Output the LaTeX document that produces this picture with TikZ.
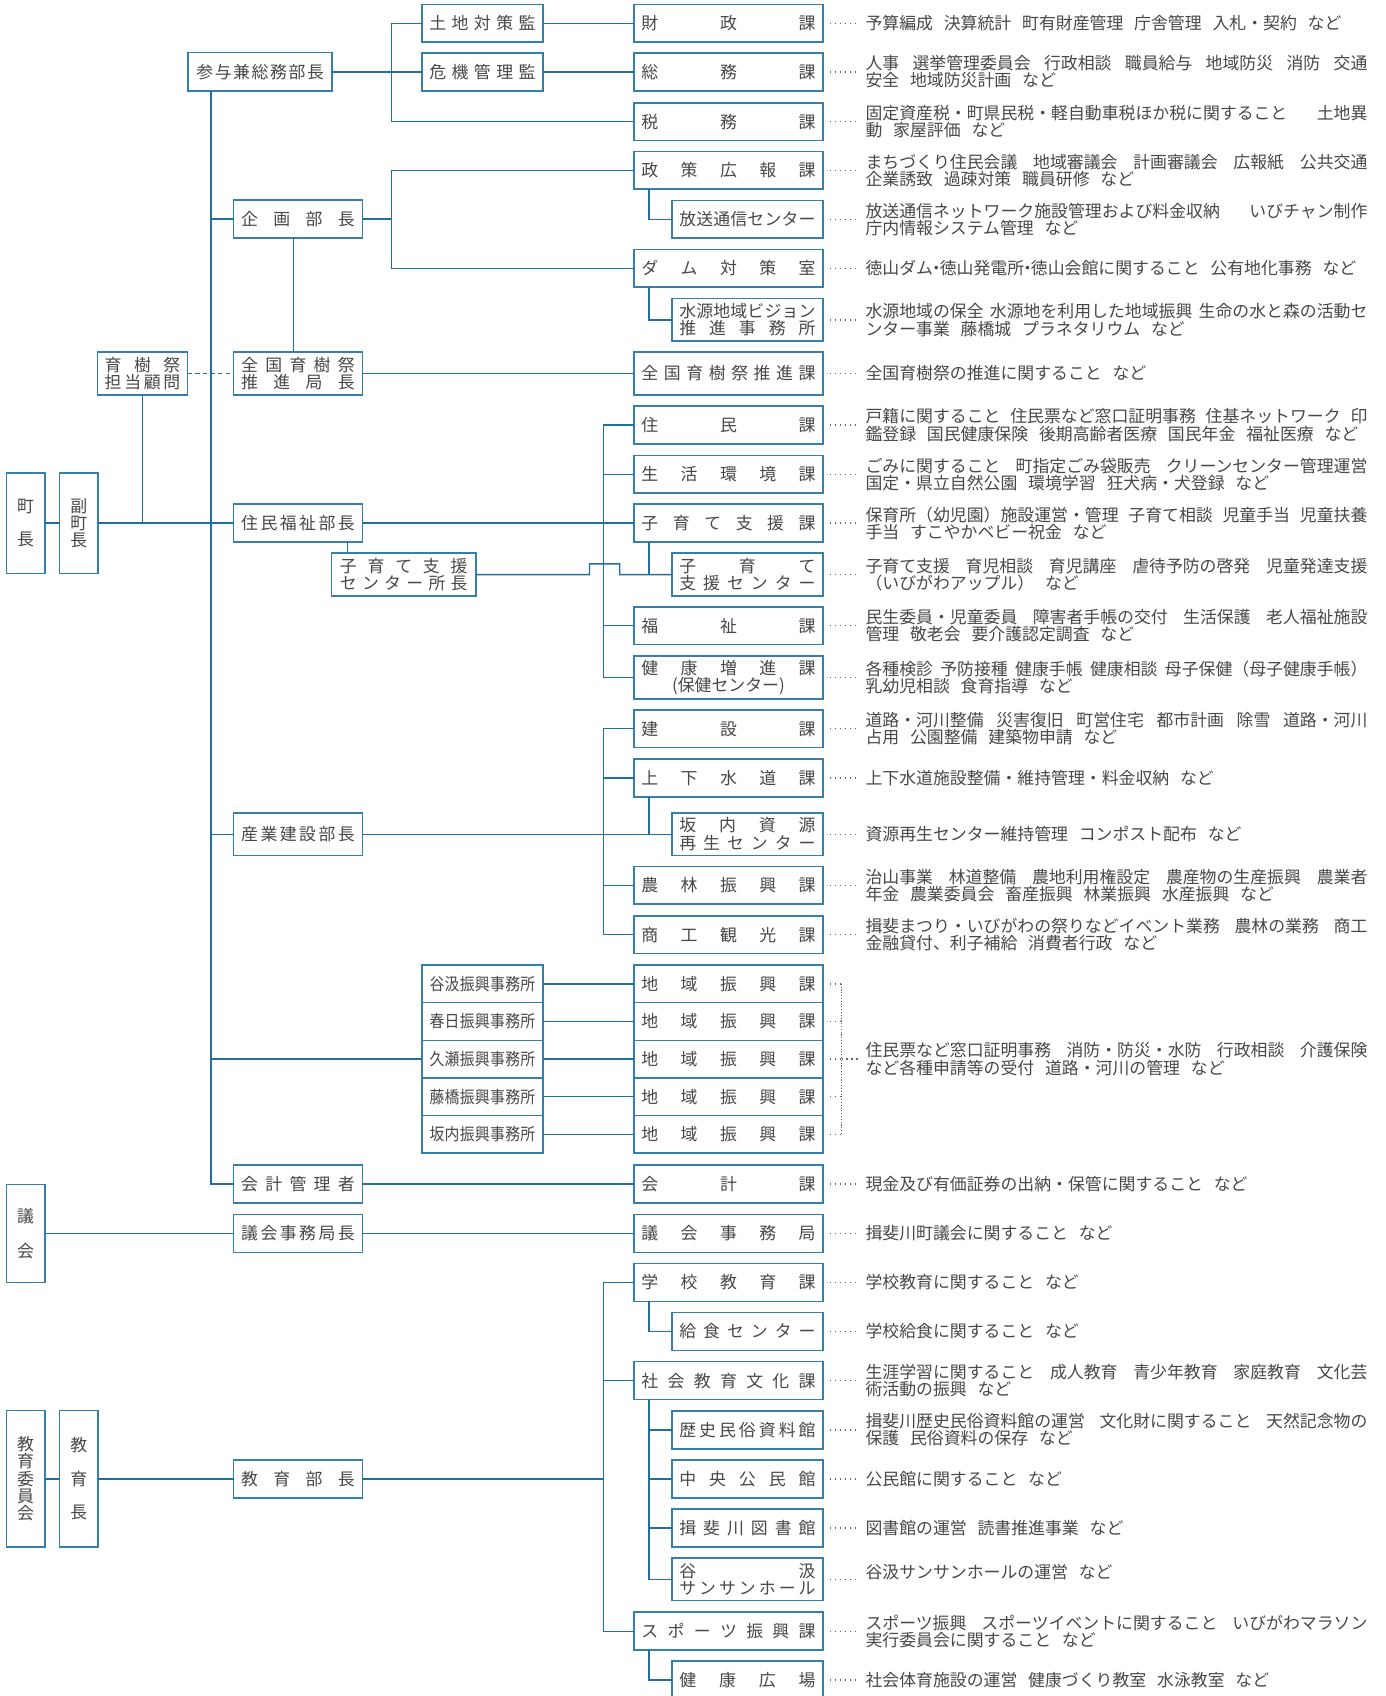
\documentclass[tikz,border=0pt]{standalone}
\usepackage{fontspec}
\usepackage{graphicx}
\setmainfont{Noto Sans CJK JP}
\usetikzlibrary{calc}
\definecolor{lc}{RGB}{32,112,158}
\definecolor{bc}{RGB}{52,128,170}
\definecolor{tc}{RGB}{72,72,72}
\definecolor{dc}{RGB}{100,100,100}
\newcommand\bxf{\fontsize{15.6pt}{16pt}\selectfont}
\newcommand\dsf{\fontsize{15.6pt}{16pt}\selectfont}
\newcommand\GG{\hskip 3pt plus 1fil\relax}
\newcommand\HH{\hskip 10pt\relax}
\newcommand\JL[1]{\makebox[464pt][s]{#1}}
\newcommand\ndot{\kern-0.3em・\kern-0.3em}
\makeatletter
\def\spr@do#1{\let\spr@sep\relax\@tfor\spr@c:=#1\do{\spr@sep\spr@c\let\spr@sep\hfill}}
\newcommand\SP[2]{\makebox[#1]{\spr@do{#2}}}
\makeatother
\newcommand\SH[1]{\scalebox{0.88}[1]{\SP{111pt}{#1}}}
\begin{document}
\begin{tikzpicture}[x=1pt,y=-1pt,
  box/.style={draw=bc,line width=1.5pt,fill=white,inner sep=0pt,outer sep=0pt,text=tc,font=\bxf,anchor=north west,align=center},
  c4/.style={minimum width=175pt,minimum height=35pt},
  sb/.style={minimum width=140pt,minimum height=35pt},
  c2/.style={minimum width=119pt,minimum height=35pt},
  c3/.style={minimum width=112pt,minimum height=35pt},
  dbl/.style={minimum height=39.5pt},
  ln/.style={draw=lc,line width=1.3pt},
  lead/.style={draw=dc,line width=1.3pt,dash pattern=on 1.3pt off 3.3pt},
  leadv/.style={draw=dc,line width=1.1pt,dash pattern=on 1pt off 1.6pt},
  dsc/.style={anchor=west,inner sep=0pt,text=tc,font=\dsf,align=left}]
\useasboundingbox (0,0) rectangle (1281,1568);
\clip (0,0) rectangle (1281,1568);
\fill[white] (0,0) rectangle (1281,1568);

% ---------- left column ----------
\node[box,minimum width=35.4pt,minimum height=93pt] (chou) at (6,437.2) {町\\[15pt]長};
\node[box,minimum width=35.5pt,minimum height=93pt] (fuku) at (55,437.2) {副\\町\\長};
\node[box,minimum width=35.4pt,minimum height=90.8pt] (gikai) at (6,1095) {議\\[16pt]会};
\node[box,minimum width=35.4pt,minimum height=125.8pt] (kyoi) at (6,1304.2) {教\\育\\委\\員\\会};
\node[box,minimum width=35.5pt,minimum height=125.8pt] (kyocho) at (55,1304.2) {教\\[15pt]育\\[15pt]長};
\node[box,minimum width=83.5pt,minimum height=39.5pt] (komon) at (90,325.6) {\SP{70pt}{育樹祭}\\\SP{70pt}{担当顧問}};

% ---------- second column ----------
\node[box,minimum width=133pt,minimum height=35.4pt] (sanyo) at (174,48.7) {\SP{118pt}{参与兼総務部長}};
\node[box,c2] (kikaku) at (216,185) {\SP{105pt}{企画部長}};
\node[box,c2,dbl] (ikuju) at (216,325.6) {\SP{105pt}{全国育樹祭}\\\SP{105pt}{推進局長}};
\node[box,c2] (jumin) at (216,466.2) {\SP{105pt}{住民福祉部長}};
\node[box,minimum width=133.5pt,minimum height=39.7pt] (kosodate) at (306.5,511.4) {\SP{118pt}{子育て支援}\\\SP{118pt}{センター所長}};
\node[box,c2,minimum height=39.1pt] (sangyo) at (216,751.7) {\SP{105pt}{産業建設部長}};
\node[box,c2] (kaikeik) at (216,1077.3) {\SP{105pt}{会計管理者}};
\node[box,c2] (gijim) at (216,1122.9) {\SP{105pt}{議会事務局長}};
\node[box,c2] (kyoikub) at (216,1349.7) {\SP{105pt}{教育部長}};

% ---------- third column ----------
\node[box,c3] (tochi) at (390,4) {\SP{98pt}{土地対策監}};
\node[box,c3] (kiki) at (390,48.9) {\SP{98pt}{危機管理監}};
\node[box,c3,minimum height=34.8pt] (sh1) at (390,892.2) {\SH{谷汲振興事務所}};
\node[box,c3,minimum height=34.8pt] (sh2) at (390,927) {\SH{春日振興事務所}};
\node[box,c3,minimum height=34.8pt] (sh3) at (390,961.8) {\SH{久瀬振興事務所}};
\node[box,c3,minimum height=34.8pt] (sh4) at (390,996.6) {\SH{藤橋振興事務所}};
\node[box,c3,minimum height=34.8pt] (sh5) at (390,1031.4) {\SH{坂内振興事務所}};

% ---------- fourth column ----------
\node[box,c4] (c-zai) at (586,4) {\SP{161pt}{財政課}};
\node[box,c4] (c-som) at (586,48.9) {\SP{161pt}{総務課}};
\node[box,c4] (c-zei) at (586,95) {\SP{161pt}{税務課}};
\node[box,c4] (c-sei) at (586,140) {\SP{161pt}{政策広報課}};
\node[box,sb] (c-hoso) at (621,185.3) {\SP{126pt}{放送通信センター}};
\node[box,c4] (c-dam) at (586,230.5) {\SP{161pt}{ダム対策室}};
\node[box,sb,dbl] (c-sui) at (621,276) {\SP{126pt}{水源地域ビジョン}\\\SP{126pt}{推進事務所}};
\node[box,c4,dbl] (c-iku) at (586,325.6) {\SP{161pt}{全国育樹祭推進課}};
\node[box,c4] (c-jum) at (586,375.5) {\SP{161pt}{住民課}};
\node[box,c4] (c-sei2) at (586,421) {\SP{161pt}{生活環境課}};
\node[box,c4] (c-kos) at (586,466.2) {\SP{161pt}{子育て支援課}};
\node[box,sb,dbl] (c-kosc) at (621,511.5) {\SP{126pt}{子育て}\\\SP{126pt}{支援センター}};
\node[box,c4] (c-fuk) at (586,561) {\SP{161pt}{福祉課}};
\node[box,c4,dbl] (c-ken) at (586,606.6) {\SP{161pt}{健康増進課}\\\makebox[161pt]{(保健センター)}};
\node[box,c4] (c-kens) at (586,656.2) {\SP{161pt}{建設課}};
\node[box,c4] (c-gesui) at (586,701.8) {\SP{161pt}{上下水道課}};
\node[box,sb,minimum height=39.1pt] (c-sakau) at (621,751.7) {\SP{126pt}{坂内資源}\\\SP{126pt}{再生センター}};
\node[box,c4] (c-norin) at (586,801) {\SP{161pt}{農林振興課}};
\node[box,c4] (c-shoko) at (586,846.6) {\SP{161pt}{商工観光課}};
\node[box,c4,minimum height=34.8pt] (c-chi1) at (586,892.2) {\SP{161pt}{地域振興課}};
\node[box,c4,minimum height=34.8pt] (c-chi2) at (586,927) {\SP{161pt}{地域振興課}};
\node[box,c4,minimum height=34.8pt] (c-chi3) at (586,961.8) {\SP{161pt}{地域振興課}};
\node[box,c4,minimum height=34.8pt] (c-chi4) at (586,996.6) {\SP{161pt}{地域振興課}};
\node[box,c4,minimum height=34.8pt] (c-chi5) at (586,1031.4) {\SP{161pt}{地域振興課}};
\node[box,c4] (c-kai) at (586,1077.3) {\SP{161pt}{会計課}};
\node[box,c4] (c-gij) at (586,1122.9) {\SP{161pt}{議会事務局}};
\node[box,c4] (c-gak) at (586,1168.1) {\SP{161pt}{学校教育課}};
\node[box,sb] (c-kyu) at (621,1213.5) {\SP{126pt}{給食センター}};
\node[box,c4] (c-sha) at (586,1258.9) {\SP{161pt}{社会教育文化課}};
\node[box,sb] (c-reki) at (621,1304.4) {\SP{126pt}{歴史民俗資料館}};
\node[box,sb] (c-chuo) at (621,1349.7) {\SP{126pt}{中央公民館}};
\node[box,sb] (c-tosho) at (621,1395) {\SP{126pt}{揖斐川図書館}};
\node[box,sb,dbl] (c-tani) at (621,1440.3) {\SP{126pt}{谷汲}\\\SP{126pt}{サンサンホール}};
\node[box,c4] (c-spo) at (586,1490.6) {\SP{161pt}{スポーツ振興課}};
\node[box,sb] (c-hiro) at (621,1535.8) {\SP{126pt}{健康広場}};

% ---------- descriptions ----------
\node[dsc] (d-zai) at (800,21.5) {予算編成\HH 決算統計\HH 町有財産管理\HH 庁舎管理\HH 入札・契約\HH など};
\node[dsc] (d-som) at (800,66.4) {\JL{人事\GG 選挙管理委員会\GG 行政相談\GG 職員給与\GG 地域防災\GG 消防\GG 交通}\\安全\HH 地域防災計画\HH など};
\node[dsc] (d-zei) at (800,112.5) {\JL{固定資産税・町県民税・軽自動車税ほか税に関すること\GG 土地異}\\動\HH 家屋評価\HH など};
\node[dsc] (d-sei) at (800,157.5) {\JL{まちづくり住民会議\GG 地域審議会\GG 計画審議会\GG 広報紙\GG 公共交通}\\企業誘致\HH 過疎対策\HH 職員研修\HH など};
\node[dsc] (d-hoso) at (800,202.8) {\JL{放送通信ネットワーク施設管理および料金収納\GG いびチャン制作}\\庁内情報システム管理\HH など};
\node[dsc] (d-dam) at (800,248) {徳山ダム\ndot 徳山発電所\ndot 徳山会館に関すること\HH 公有地化事務\HH など};
\node[dsc] (d-sui) at (800,295.8) {\JL{水源地域の保全\GG 水源地を利用した地域振興\GG 生命の水と森の活動セ}\\ンター事業\HH 藤橋城\HH プラネタリウム\HH など};
\node[dsc] (d-iku) at (800,345.3) {全国育樹祭の推進に関すること\HH など};
\node[dsc] (d-jum) at (800,393) {\JL{戸籍に関すること\GG 住民票など窓口証明事務\GG 住基ネットワーク\GG 印}\\鑑登録\HH 国民健康保険\HH 後期高齢者医療\HH 国民年金\HH 福祉医療\HH など};
\node[dsc] (d-sei2) at (800,438.5) {\JL{ごみに関すること\GG 町指定ごみ袋販売\GG クリーンセンター管理運営}\\国定・県立自然公園\HH 環境学習\HH 狂犬病・犬登録\HH など};
\node[dsc] (d-kos) at (800,483.7) {\JL{保育所（幼児園）施設運営・管理\GG 子育て相談\GG 児童手当\GG 児童扶養}\\手当\HH すこやかベビー祝金\HH など};
\node[dsc] (d-kosc) at (800,531.2) {\JL{子育て支援\GG 育児相談\GG 育児講座\GG 虐待予防の啓発\GG 児童発達支援}\\（いびがわアップル）\HH など};
\node[dsc] (d-fuk) at (800,578.5) {\JL{民生委員・児童委員\GG 障害者手帳の交付\GG 生活保護\GG 老人福祉施設}\\管理\HH 敬老会\HH 要介護認定調査\HH など};
\node[dsc] (d-ken) at (800,626.3) {\JL{各種検診\GG 予防接種\GG 健康手帳\GG 健康相談\GG 母子保健（母子健康手帳）}\\乳幼児相談\HH 食育指導\HH など};
\node[dsc] (d-kens) at (800,673.7) {\JL{道路・河川整備\GG 災害復旧\GG 町営住宅\GG 都市計画\GG 除雪\GG 道路・河川}\\占用\HH 公園整備\HH 建築物申請\HH など};
\node[dsc] (d-gesui) at (800,719.3) {上下水道施設整備・維持管理・料金収納\HH など};
\node[dsc] (d-sakau) at (800,771.2) {資源再生センター維持管理\HH コンポスト配布\HH など};
\node[dsc] (d-norin) at (800,818.5) {\JL{治山事業\GG 林道整備\GG 農地利用権設定\GG 農産物の生産振興\GG 農業者}\\年金\HH 農業委員会\HH 畜産振興\HH 林業振興\HH 水産振興\HH など};
\node[dsc] (d-shoko) at (800,864.1) {\JL{揖斐まつり・いびがわの祭りなどイベント業務\GG 農林の業務\GG 商工}\\金融貸付、利子補給\HH 消費者行政\HH など};
\node[dsc] (d-chi) at (800,979.2) {\JL{住民票など窓口証明事務\GG 消防・防災・水防\GG 行政相談\GG 介護保険}\\など各種申請等の受付\HH 道路・河川の管理\HH など};
\node[dsc] (d-kai) at (800,1094.8) {現金及び有価証券の出納・保管に関すること\HH など};
\node[dsc] (d-gij) at (800,1140.4) {揖斐川町議会に関すること\HH など};
\node[dsc] (d-gak) at (800,1185.6) {学校教育に関すること\HH など};
\node[dsc] (d-kyu) at (800,1231) {学校給食に関すること\HH など};
\node[dsc] (d-sha) at (800,1276.4) {\JL{生涯学習に関すること\GG 成人教育\GG 青少年教育\GG 家庭教育\GG 文化芸}\\術活動の振興\HH など};
\node[dsc] (d-reki) at (800,1321.9) {\JL{揖斐川歴史民俗資料館の運営\GG 文化財に関すること\GG 天然記念物の}\\保護\HH 民俗資料の保存\HH など};
\node[dsc] (d-chuo) at (800,1367.2) {公民館に関すること\HH など};
\node[dsc] (d-tosho) at (800,1412.5) {図書館の運営\HH 読書推進事業\HH など};
\node[dsc] (d-tani) at (800,1453) {谷汲サンサンホールの運営\HH など};
\node[dsc] (d-spo) at (800,1508.1) {\JL{スポーツ振興\GG スポーツイベントに関すること\GG いびがわマラソン}\\実行委員会に関すること\HH など};
\node[dsc] (d-hiro) at (800,1553.3) {社会体育施設の運営\HH 健康づくり教室\HH 水泳教室\HH など};

% ---------- connectors ----------
\coordinate (vA) at (362,0);
\coordinate (vB) at (558,0);
\coordinate (bx) at (778,0);
\path (sanyo.south west) ++(21,0) coordinate (t0);
\path (kikaku.south) ++(-4,0) coordinate (kk);
\path (kosodate.north west) ++(14.5,0) coordinate (ks);
\path (c-gesui.south west) ++(14,0) coordinate (gs);
\path (c-sha.south west) ++(14,0) coordinate (ss);

\draw[ln] (t0) -- (t0 |- kaikeik.west) -- (kaikeik.west);
\draw[ln] (t0 |- kikaku.west) -- (kikaku.west);
\draw[ln] (t0 |- sangyo.west) -- (sangyo.west);
\draw[ln] (t0 |- sh3.west) -- (sh3.west);
\draw[ln] (chou.east) -- (fuku.west);
\draw[ln] (fuku.east) -- (fuku.east -| jumin.west);
\draw[ln] (komon.south) -- (komon.south |- jumin.west);
\draw[ln,dash pattern=on 4pt off 3pt] (komon.east) -- (komon.east -| ikuju.west);
\draw[ln] (kk) -- (kk |- ikuju.north);
\draw[ln] (ks) -- (ks |- jumin.south);

\draw[ln] (sanyo.east) -- (sanyo.east -| kiki.west);
\draw[ln] (tochi.west) -| (vA |- c-zei.west) -- (c-zei.west);
\draw[ln] (tochi.east) -- (tochi.east -| c-zai.west);
\draw[ln] (kiki.east) -- (kiki.east -| c-som.west);
\draw[ln] (kikaku.east) -- (kikaku.east -| vA);
\draw[ln] (c-sei.west) -| (vA |- c-dam.west) -- (c-dam.west);
\draw[ln] ($(c-sei.south west)+(14,0)$) |- (c-hoso.west);
\draw[ln] ($(c-dam.south west)+(14,0)$) |- (c-sui.west);
\draw[ln] (ikuju.east) -- (ikuju.east -| c-iku.west);

\draw[ln] (jumin.east) -- (jumin.east -| c-kos.west);
\draw[ln] (c-jum.west) -| (vB |- c-ken.west) -- (c-ken.west);
\draw[ln] (vB |- c-sei2.west) -- (c-sei2.west);
\draw[ln] (vB |- c-fuk.west) -- (c-fuk.west);
\draw[ln] (kosodate.east) -- ++(105,0) -- ++(0,-10) -- ++(28,0) -- ++(0,10) -- (c-kosc.west);
\draw[ln] ($(c-kos.south west)+(14,0)$) |- (c-kosc.west);

\draw[ln] (sangyo.east) -- (sangyo.east -| c-sakau.west);
\draw[ln] (c-kens.west) -| (vB |- c-shoko.west) -- (c-shoko.west);
\draw[ln] (vB |- c-gesui.west) -- (c-gesui.west);
\draw[ln] (vB |- c-norin.west) -- (c-norin.west);
\draw[ln] (gs) -- (gs |- c-sakau.west);

\foreach \i in {1,...,5} {\draw[ln] (sh\i.east) -- (c-chi\i.west);}

\draw[ln] (kaikeik.east) -- (kaikeik.east -| c-kai.west);
\draw[ln] (gikai.east |- gijim.west) -- (gijim.west);
\draw[ln] (gijim.east) -- (gijim.east -| c-gij.west);
\draw[ln] (kyoi.east |- kyoikub.west) -- (kyocho.west |- kyoikub.west);
\draw[ln] (kyocho.east |- kyoikub.west) -- (kyoikub.west);
\draw[ln] (kyoikub.east) -- (kyoikub.east -| vB);
\draw[ln] (c-gak.west) -| (vB |- c-spo.west) -- (c-spo.west);
\draw[ln] (vB |- c-sha.west) -- (c-sha.west);
\draw[ln] ($(c-gak.south west)+(14,0)$) |- (c-kyu.west);
\draw[ln] (ss) |- (c-tani.west);
\foreach \n in {reki,chuo,tosho} {\draw[ln] (ss |- c-\n.west) -- (c-\n.west);}
\draw[ln] ($(c-spo.south west)+(14,0)$) |- (c-hiro.west);

% ---------- leader dots ----------
\foreach \n in {zai,som,zei,sei,hoso,dam,sui,iku,jum,sei2,kos,kosc,fuk,ken,kens,gesui,sakau,norin,shoko,kai,gij,gak,kyu,sha,reki,chuo,tosho,tani,spo,hiro}
  {\draw[lead] ($(c-\n.east)+(6,0)$) -- ($(d-\n.west |- c-\n.east)+(-7,0)$);}
\foreach \i in {1,...,5} {\draw[lead] ($(c-chi\i.east)+(6,0)$) -- (c-chi\i.east -| bx);}
\draw[leadv] (bx |- c-chi1.east) -- (bx |- c-chi5.east);
\draw[lead] (bx |- c-chi3.east) -- ($(d-chi.west |- c-chi3.east)+(-7,0)$);
\end{tikzpicture}
\end{document}
